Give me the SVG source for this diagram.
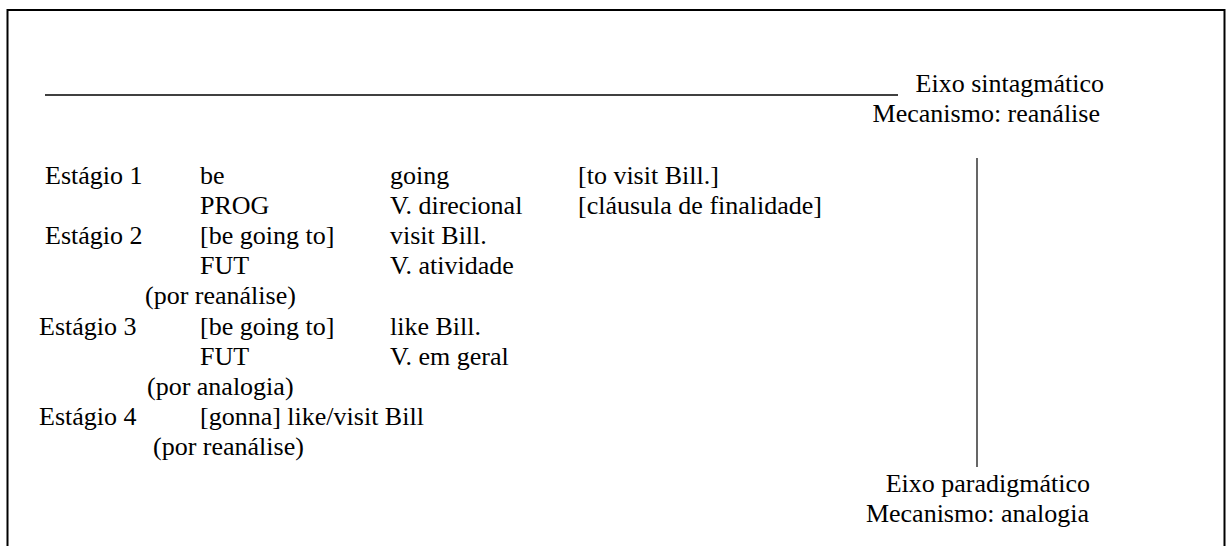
<svg xmlns="http://www.w3.org/2000/svg" width="1226" height="546" viewBox="0 0 1226 546" font-family="'Liberation Serif', Tinos, 'Times New Roman', 'DejaVu Serif', serif" font-size="26">
<style>
text{font-family:"Liberation Serif",Tinos,"Times New Roman","DejaVu Serif",serif;font-size:26px;fill:#000}
.ln{stroke:#000;fill:none}
</style>
<rect width="1226" height="546" fill="#fff"/>
<g id="frame">
<path class="ln" stroke-width="2" d="M7.5,546 V10 H1224.5 V546"/>
</g>
<g id="connectors">
<line class="ln" stroke-width="1.5" x1="45" y1="95" x2="898" y2="95"/>
<line class="ln" stroke-width="1.2" x1="977" y1="158" x2="977" y2="467"/>
</g>
<g id="eixo-sintagmatico">
<text x="1104" y="92" text-anchor="end">Eixo sintagmático</text>
<text x="1100" y="122" text-anchor="end">Mecanismo: reanálise</text>
</g>
<g id="eixo-paradigmatico">
<text x="1090" y="492" text-anchor="end">Eixo paradigmático</text>
<text x="1089" y="522" text-anchor="end">Mecanismo: analogia</text>
</g>
<g id="estagio1">
<text x="45" y="184">Estágio 1</text>
<text x="200" y="184">be</text>
<text x="390" y="184">going</text>
<text x="578" y="184">[to visit Bill.]</text>
<text x="200" y="214">PROG</text>
<text x="390" y="214">V. direcional</text>
<text x="578" y="214">[cláusula de finalidade]</text>
</g>
<g id="estagio2">
<text x="45" y="244">Estágio 2</text>
<text x="200" y="244">[be going to]</text>
<text x="390" y="244">visit Bill.</text>
<text x="200" y="274">FUT</text>
<text x="390" y="274">V. atividade</text>
<text x="145" y="304">(por reanálise)</text>
</g>
<g id="estagio3">
<text x="39" y="335">Estágio 3</text>
<text x="200" y="335">[be going to]</text>
<text x="390" y="335">like Bill.</text>
<text x="200" y="365">FUT</text>
<text x="390" y="365">V. em geral</text>
<text x="147" y="395">(por analogia)</text>
</g>
<g id="estagio4">
<text x="39" y="425">Estágio 4</text>
<text x="200" y="425">[gonna] like/visit Bill</text>
<text x="153" y="455">(por reanálise)</text>
</g>
</svg>
